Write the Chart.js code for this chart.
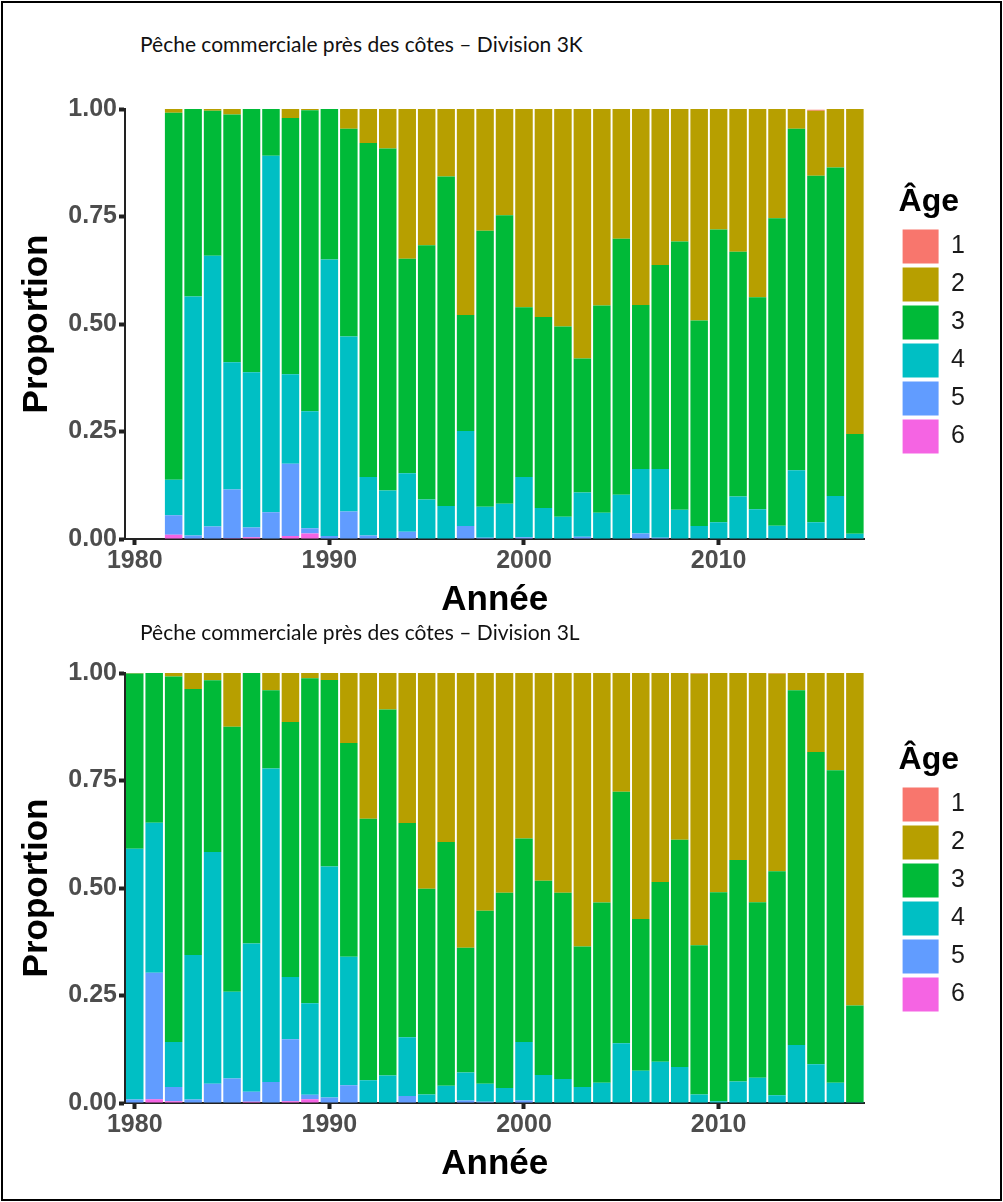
<!DOCTYPE html>
<html>
<head>
<meta charset="utf-8">
<script src="https://cdn.jsdelivr.net/npm/chart.js@4.4.1/dist/chart.umd.min.js"></script>
<style>
body { margin: 0; background: #fff; }
#page { position: relative; width: 1003px; height: 1202px; overflow: hidden; background: #fff; }
#frame { position: absolute; left: 1px; top: 1px; width: 997px; height: 1196px; border: 2px solid #000; pointer-events: none; }
.titre { position: absolute; left: 140px; font-family: Lato, 'Open Sans', sans-serif; font-size: 21px; color: #111; white-space: nowrap; }
canvas { position: absolute; left: 0; }
</style>
</head>
<body>
<div id="page">
  <canvas id="chart3K" width="1003" height="560" style="top:70px"></canvas>
  <canvas id="chart3L" width="1003" height="560" style="top:634px"></canvas>
  <div class="titre" style="top:31px">Pêche commerciale près des côtes – Division 3K</div>
  <div class="titre" style="top:619px">Pêche commerciale près des côtes – Division 3L</div>
  <div id="frame"></div>
</div>
<script>
const years = [1980, 1981, 1982, 1983, 1984, 1985, 1986, 1987, 1988, 1989,
  1990, 1991, 1992, 1993, 1994, 1995, 1996, 1997, 1998, 1999,
  2000, 2001, 2002, 2003, 2004, 2005, 2006, 2007, 2008, 2009,
  2010, 2011, 2012, 2013, 2014, 2015, 2016, 2017];
const ages = ['1', '2', '3', '4', '5', '6'];
const ageColors = ['#F8766D', '#B79F00', '#00BA38', '#00BFC4', '#619CFF', '#F564E3'];
const yTicks = [0, 0.25, 0.5, 0.75, 1];

// Division 3K (pas de données 1980-1981)
const age1_3K = [null, null, 0, 0, 0, 0, 0, 0, 0, 0, 0, 0, 0, 0, 0, 0, 0, 0, 0, 0,
  0, 0, 0, 0, 0, 0, 0, 0, 0, 0, 0, 0, 0, 0, 0, 0.002, 0, 0];
const age2_3K = [null, null, 0.009, 0, 0.004, 0.013, 0, 0, 0.021, 0.003, 0, 0.046, 0.079, 0.092, 0.348, 0.317, 0.157, 0.479, 0.283, 0.247,
  0.461, 0.484, 0.506, 0.58, 0.457, 0.302, 0.456, 0.363, 0.308, 0.492, 0.28, 0.332, 0.438, 0.254, 0.046, 0.151, 0.136, 0.756];
const age3_3K = [null, null, 0.853, 0.436, 0.337, 0.576, 0.612, 0.109, 0.596, 0.700, 0.350, 0.483, 0.777, 0.795, 0.499, 0.591, 0.766, 0.270, 0.642, 0.671,
  0.395, 0.444, 0.442, 0.312, 0.482, 0.595, 0.381, 0.474, 0.624, 0.478, 0.681, 0.569, 0.493, 0.715, 0.794, 0.806, 0.764, 0.232];
const age4_3K = [null, null, 0.083, 0.556, 0.630, 0.296, 0.361, 0.829, 0.208, 0.272, 0.643, 0.407, 0.136, 0.111, 0.136, 0.092, 0.077, 0.221, 0.072, 0.082,
  0.140, 0.072, 0.052, 0.103, 0.061, 0.103, 0.150, 0.160, 0.068, 0.030, 0.039, 0.099, 0.069, 0.031, 0.160, 0.039, 0.100, 0.012];
const age5_3K = [null, null, 0.045, 0.008, 0.029, 0.113, 0.023, 0.062, 0.168, 0.012, 0.007, 0.064, 0.008, 0.002, 0.017, 0, 0, 0.030, 0.003, 0,
  0.004, 0, 0, 0.005, 0, 0, 0.013, 0.003, 0, 0, 0, 0, 0, 0, 0, 0, 0, 0];
const age6_3K = [null, null, 0.010, 0, 0, 0.002, 0.004, 0, 0.007, 0.013, 0, 0, 0, 0, 0, 0, 0, 0, 0, 0,
  0, 0, 0, 0, 0, 0, 0, 0, 0, 0, 0, 0, 0, 0, 0, 0, 0, 0];

// Division 3L
const age1_3L = [0, 0, 0, 0, 0, 0, 0, 0, 0, 0, 0, 0, 0, 0, 0, 0, 0, 0, 0, 0,
  0, 0, 0, 0, 0, 0, 0, 0, 0, 0.001, 0, 0, 0, 0.001, 0, 0, 0, 0];
const age2_3L = [0.001, 0, 0.008, 0.037, 0.017, 0.125, 0, 0.04, 0.114, 0.012, 0.016, 0.163, 0.339, 0.085, 0.349, 0.502, 0.393, 0.639, 0.553, 0.511,
  0.385, 0.483, 0.511, 0.636, 0.534, 0.276, 0.572, 0.486, 0.388, 0.632, 0.510, 0.435, 0.533, 0.460, 0.04, 0.184, 0.226, 0.773];
const age3_3L = [0.408, 0.348, 0.850, 0.619, 0.399, 0.616, 0.629, 0.182, 0.593, 0.756, 0.434, 0.497, 0.608, 0.851, 0.498, 0.478, 0.567, 0.290, 0.402, 0.454,
  0.473, 0.452, 0.433, 0.327, 0.419, 0.585, 0.353, 0.418, 0.528, 0.347, 0.486, 0.515, 0.408, 0.521, 0.825, 0.726, 0.727, 0.225];
const age4_3L = [0.583, 0.349, 0.105, 0.336, 0.539, 0.202, 0.345, 0.729, 0.145, 0.213, 0.537, 0.299, 0.053, 0.064, 0.137, 0.020, 0.040, 0.065, 0.042, 0.035,
  0.136, 0.065, 0.056, 0.037, 0.047, 0.139, 0.073, 0.096, 0.084, 0.020, 0.004, 0.050, 0.059, 0.018, 0.135, 0.090, 0.047, 0.002];
const age5_3L = [0.008, 0.294, 0.033, 0.008, 0.045, 0.057, 0.023, 0.049, 0.144, 0.010, 0.013, 0.041, 0, 0, 0.016, 0, 0, 0.006, 0.003, 0,
  0.006, 0, 0, 0, 0, 0, 0.002, 0, 0, 0, 0, 0, 0, 0, 0, 0, 0, 0];
const age6_3L = [0, 0.009, 0.004, 0, 0, 0, 0.003, 0, 0.004, 0.009, 0, 0, 0, 0, 0, 0, 0, 0, 0, 0,
  0, 0, 0, 0, 0, 0, 0, 0, 0, 0, 0, 0, 0, 0, 0, 0, 0, 0];

Chart.defaults.font.family = "'Liberation Sans', Arial, sans-serif";
Chart.defaults.animation = false;

function makeChart(canvasId, series, legendTop) {
	// l'âge 6 en bas de la pile, l'âge 1 en haut
	const datasets = [];
	for (let i = series.length - 1; i >= 0; i--) {
		datasets.push({
			label: ages[i],
			data: series[i],
			backgroundColor: ageColors[i],
			borderWidth: 0,
			barPercentage: 0.9,
			categoryPercentage: 1
		});
	}
	new Chart(document.getElementById(canvasId), {
		type: 'bar',
		data: { labels: years, datasets: datasets },
		options: {
			responsive: false,
			layout: { padding: { left: 10, top: 39, bottom: 5, right: 28 } },
			plugins: {
				tooltip: { enabled: false },
				legend: {
					position: 'right',
					align: 'start',
					reverse: true,
					title: {
						display: true,
						text: 'Âge',
						color: '#000',
						font: { size: 32, weight: 'bold' },
						padding: { top: legendTop, bottom: 1 },
						position: 'start'
					},
					labels: {
						boxWidth: 36,
						boxHeight: 34,
						padding: 4,
						color: '#1a1a1a',
						font: { size: 25 }
					}
				}
			},
			scales: {
				x: {
					stacked: true,
					offset: true,
					grid: {
						offset: false,
						drawOnChartArea: false,
						tickLength: 6,
						tickWidth: 4,
						tickColor: ctx => (years[ctx.index] % 10 === 0 ? '#222' : 'rgba(0,0,0,0)')
					},
					border: { color: '#222', width: 2 },
					ticks: {
						autoSkip: false,
						maxRotation: 0,
						padding: 1,
						color: '#4D4D4D',
						font: { size: 25, weight: 'bold' },
						callback: (value, index) => (years[index] % 10 === 0 ? String(years[index]) : '')
					},
					title: {
						display: true,
						text: 'Année',
						color: '#000',
						font: { size: 35, weight: 'bold' },
						padding: { top: 0, bottom: 4 }
					},
					afterFit: scale => { scale.height = 86; }
				},
				y: {
					stacked: true,
					min: 0,
					max: 1,
					grid: {
						drawOnChartArea: false,
						tickLength: 6,
						tickWidth: 4,
						tickColor: '#222'
					},
					border: { color: '#222', width: 2 },
					ticks: {
						padding: 2,
						color: '#4D4D4D',
						font: { size: 25, weight: 'bold' },
						callback: v => v.toFixed(2)
					},
					afterBuildTicks: scale => { scale.ticks = yTicks.map(v => ({ value: v })); },
					title: {
						display: true,
						text: 'Proportion',
						color: '#000',
						font: { size: 35, weight: 'bold' },
						padding: { top: 6, bottom: 0 }
					},
					afterFit: scale => { scale.width = 115; }
				},
				gap: {
					type: 'linear',
					position: 'right',
					grid: { display: false },
					border: { display: false },
					ticks: { display: false },
					afterFit: scale => { scale.width = 34; }
				}
			}
		}
	});
}

makeChart('chart3K', [age1_3K, age2_3K, age3_3K, age4_3K, age5_3K, age6_3K], 77);
makeChart('chart3L', [age1_3L, age2_3L, age3_3L, age4_3L, age5_3L, age6_3L], 71);
</script>
</body>
</html>
